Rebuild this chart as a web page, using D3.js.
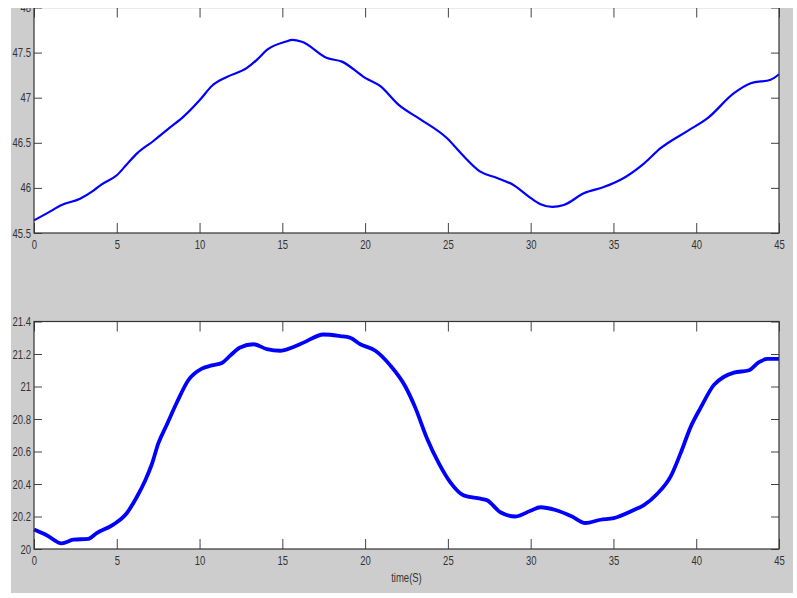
<!DOCTYPE html>
<html lang="en">
<head>
<meta charset="utf-8">
<title>two signals vs time</title>
<script src="https://cdn.jsdelivr.net/npm/d3@7"></script>
<style>
  body{margin:0;background:#fff;}
  svg{display:block;}
  .lbl{font-family:"Liberation Sans",Arial,sans-serif;font-size:12.5px;fill:#333;}
</style>
</head>
<body>
<div id="chart"></div>
<script>
// time axis ticks
var xTicks = [0,5,10,15,20,25,30,35,40,45]

// upper signal
var topT = [0,0.8,1.67,2.78,3.59,4.09,5.0,5.6,6.21,7.21,8.22,9.03,10.04,10.74,11.65,12.86,13.46,14.07,15.18,15.6,16.18,17.7,18.6,20.0,20.9,22.03,23.34,24.95,25.86,26.96,27.97,28.98,29.99,30.6,31.3,32.0,33.21,34.42,35.43,36.84,37.85,39.46,40.67,42.28,43.29,44.5,45]
var topV = [45.64,45.72,45.81,45.88,45.97,46.04,46.14,46.26,46.38,46.52,46.67,46.79,46.98,47.13,47.23,47.33,47.42,47.53,47.62,47.64,47.62,47.44,47.40,47.22,47.13,46.92,46.76,46.55,46.37,46.18,46.11,46.03,45.89,45.82,45.79,45.81,45.94,46.01,46.09,46.27,46.44,46.63,46.77,47.05,47.16,47.2,47.26]
var topTicks = [45.5,46,46.5,47,47.5,48]

// lower signal
var botT = [0,0.77,1.67,2.38,3.28,3.79,4.79,5.6,6.21,6.71,7.11,7.51,8.02,8.62,9.33,10.14,10.74,11.35,11.85,12.45,13.26,14.07,14.87,15.6,16.28,17.49,18.5,19.1,19.71,20.62,21.52,22.43,23.03,23.74,24.44,25.15,25.95,26.96,27.37,28.17,29.08,29.99,30.59,31.5,32.5,33.3,34.22,35.02,36.23,36.84,37.65,38.45,39.06,39.66,40.27,41.07,41.68,42.28,43.19,43.79,44.3,45]
var botV = [20.12,20.085,20.035,20.057,20.063,20.098,20.15,20.22,20.32,20.42,20.52,20.65,20.765,20.90,21.04,21.11,21.13,21.145,21.19,21.24,21.26,21.23,21.22,21.24,21.27,21.32,21.31,21.30,21.26,21.22,21.13,21.0,20.87,20.68,20.53,20.41,20.33,20.31,20.30,20.226,20.20,20.235,20.257,20.24,20.2,20.16,20.18,20.19,20.24,20.27,20.34,20.445,20.59,20.75,20.87,21.01,21.06,21.085,21.10,21.15,21.17,21.17]
var botTicks = [20,20.2,20.4,20.6,20.8,21,21.2,21.4]

var w = 797, h = 598
var squeeze = 0.76   // matlab font looks narrow
var svg = d3.select("#chart").append("svg").attr("width",w).attr("height",h)

svg.append("clipPath").attr("id","fig")
    .append("rect").attr("x",11).attr("y",8).attr("width",782).attr("height",585)

var fig = svg.append("g").attr("clip-path","url(#fig)")
fig.append("rect").attr("x",11).attr("y",8).attr("width",782).attr("height",585).attr("fill","#cdcdcd")

var left = 34, right = 779

function narrow(g){
    g.selectAll(".tick text").each(function(){
        var t = d3.select(this)
        var x = +t.attr("x") || 0
        t.attr("x", x/squeeze)
         .attr("transform","scale("+squeeze+",1)")
         .attr("class","lbl")
         .attr("font-family",null).attr("font-size",null).attr("fill",null)
    })
}

function panel(top, bottom, T, V, yTicks, sw){
    var xScale = d3.scaleLinear().domain([0,45]).range([left,right])
    var yScale = d3.scaleLinear().domain([yTicks[0], yTicks[yTicks.length-1]]).range([bottom,top])

    fig.append("rect")
        .attr("x",left).attr("y",top)
        .attr("width",right-left).attr("height",bottom-top)
        .attr("fill","#fff")

    var pts = T.map(function(t,i){ return [t, V[i]] })
    var line = d3.line()
        .x(function(d){ return xScale(d[0]) })
        .y(function(d){ return yScale(d[1]) })
        .curve(d3.curveMonotoneX)
    fig.append("path").datum(pts)
        .attr("d",line)
        .attr("fill","none")
        .attr("stroke","#0000ff")
        .attr("stroke-width",sw)
        .attr("stroke-linejoin","round")

    // axes, ticks pointing inward
    var xb = fig.append("g").attr("transform","translate(0,"+bottom+")")
        .call(d3.axisBottom(xScale).tickValues(xTicks).tickSize(-10).tickSizeOuter(0).tickPadding(7))
    fig.append("g").attr("transform","translate(0,"+top+")")
        .call(d3.axisTop(xScale).tickValues(xTicks).tickSize(-10).tickSizeOuter(0).tickFormat(""))
    var yl = fig.append("g").attr("transform","translate("+left+",0)")
        .call(d3.axisLeft(yScale).tickValues(yTicks).tickSize(-8).tickSizeOuter(0).tickPadding(3).tickFormat(d3.format("")))
    fig.append("g").attr("transform","translate("+right+",0)")
        .call(d3.axisRight(yScale).tickValues(yTicks).tickSize(-8).tickSizeOuter(0).tickFormat(""))

    narrow(xb)
    narrow(yl)
    fig.selectAll(".domain").remove()
    fig.selectAll(".tick line").attr("stroke","#444")

    fig.append("rect")
        .attr("x",left).attr("y",top)
        .attr("width",right-left).attr("height",bottom-top)
        .attr("fill","none").attr("stroke","#333").attr("stroke-width",1.2)
    return xScale
}

panel(7.5, 233, topT, topV, topTicks, 2.2)
panel(321.5, 549, botT, botV, botTicks, 3.8)

fig.append("text")
    .attr("class","lbl")
    .attr("transform","scale("+squeeze+",1)")
    .attr("x",(left+right)/2/squeeze).attr("y",582)
    .attr("text-anchor","middle")
    .text("time(S)")
</script>
</body>
</html>
